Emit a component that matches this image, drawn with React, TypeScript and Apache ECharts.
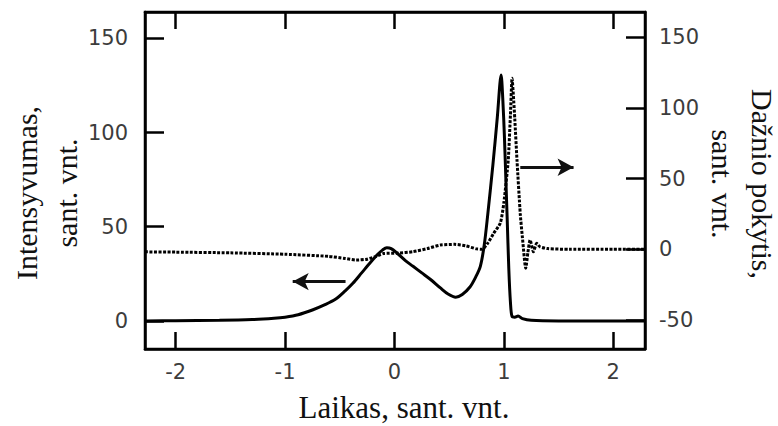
import React, { useEffect, useRef } from "react";
import * as echarts from "echarts";

// Time axis (arbitrary units)
const xTicks = [-2, -1, 0, 1, 2];
const leftTicks = [0, 50, 100, 150];
const rightTicks = [-50, 0, 50, 100, 150];

// Pulse intensity vs time
const intensity: [number, number][] = [
  [-2.28, 0], [-2.0, 0.1], [-1.6, 0.3], [-1.3, 0.7], [-1.1, 1.4], [-1.0, 2.0],
  [-0.88, 3.3], [-0.75, 5.8], [-0.64, 8.5], [-0.54, 11.5], [-0.45, 16],
  [-0.38, 20], [-0.3, 25.5], [-0.22, 31], [-0.15, 35.5], [-0.11, 37.6], [-0.07, 38.8],
  [-0.03, 38.4], [0.02, 36.2], [0.1, 32], [0.17, 29], [0.25, 25.5], [0.33, 22],
  [0.42, 17.5], [0.49, 14.3], [0.56, 12.6], [0.62, 14], [0.69, 18], [0.74, 23],
  [0.785, 29], [0.82, 40], [0.85, 55], [0.9, 83], [0.94, 108], [0.975, 130.5],
  [0.99, 118], [1.005, 98], [1.02, 72], [1.03, 55], [1.045, 28], [1.06, 10],
  [1.075, 2.3], [1.1, 2.0], [1.13, 2.6], [1.17, 1.2], [1.25, 0.3], [1.5, 0], [2.29, 0],
];

// Frequency shift vs time
const shift: [number, number][] = [
  [-2.28, -1.8], [-2.0, -2], [-1.5, -2.5], [-1.0, -3.5], [-0.6, -5], [-0.45, -6.5],
  [-0.35, -7.6], [-0.25, -7], [-0.15, -4.5], [-0.1, -3], [0.03, -2.7], [0.17, -1.7],
  [0.3, 0.5], [0.42, 3], [0.55, 3.5], [0.65, 2.5], [0.75, 0.3], [0.8, 0],
  [0.85, 4], [0.907, 11.3], [0.968, 18.6], [1.0, 33], [1.04, 63], [1.06, 95],
  [1.075, 121], [1.09, 105], [1.1, 92], [1.12, 63], [1.15, 25], [1.17, 8],
  [1.2, -13.4], [1.22, -2], [1.24, 6.6], [1.27, -1.7], [1.3, 4.2], [1.33, 1.8],
  [1.4, 0.5], [1.6, 0], [2.0, 0], [2.29, 0],
];

const TICK_FONT = "DejaVu Sans";
const TITLE_FONT = "'Liberation Serif', 'Times New Roman', serif";

const axisStroke = { color: "#000", width: 2.5 };

export default function App() {
  const ref = useRef<HTMLDivElement>(null);

  useEffect(() => {
    if (!ref.current) return;
    const chart = echarts.init(ref.current, null, { renderer: "svg" });

    const tickLabel = {
      color: "#3c3c3c",
      fontFamily: TICK_FONT,
      fontSize: 21,
    };

    const xAxisBase = (position: "bottom" | "top", showLabels: boolean) => ({
      type: "value",
      min: -2.28,
      max: 2.29,
      position,
      splitLine: { show: false },
      axisLine: { show: true, onZero: false, lineStyle: axisStroke },
      axisTick: {
        show: true,
        inside: true,
        length: 17,
        customValues: xTicks,
        lineStyle: axisStroke,
      },
      axisLabel: showLabels
        ? { ...tickLabel, margin: 12, customValues: xTicks }
        : { show: false },
    });

    chart.setOption({
      animation: false,
      backgroundColor: "#fff",
      grid: {
        left: 145,
        right: 133,
        top: 12,
        bottom: 77,
        show: true,
        borderColor: "#000",
        borderWidth: 2.5,
      },
      xAxis: [xAxisBase("bottom", true), xAxisBase("top", false)],
      yAxis: [
        {
          type: "value",
          min: -14.9,
          max: 164,
          position: "left",
          splitLine: { show: false },
          axisLine: { show: true, onZero: false, lineStyle: axisStroke },
          axisTick: {
            show: true,
            inside: true,
            length: 19,
            customValues: leftTicks,
            lineStyle: axisStroke,
          },
          axisLabel: { ...tickLabel, margin: 17, customValues: leftTicks },
        },
        {
          type: "value",
          min: -70.5,
          max: 167.8,
          position: "right",
          splitLine: { show: false },
          axisLine: { show: true, onZero: false, lineStyle: axisStroke },
          axisTick: {
            show: true,
            inside: true,
            length: 19,
            customValues: rightTicks,
            lineStyle: axisStroke,
          },
          axisLabel: { ...tickLabel, margin: 14, customValues: rightTicks },
        },
      ],
      series: [
        {
          name: "Intensyvumas",
          type: "line",
          xAxisIndex: 0,
          yAxisIndex: 0,
          data: intensity,
          showSymbol: false,
          smooth: 0.3,
          lineStyle: { color: "#000", width: 3 },
          markLine: {
            silent: true,
            symbol: ["none", "arrow"],
            symbolSize: [13, 16],
            label: { show: false },
            lineStyle: { color: "#111", width: 3, type: "solid" },
            data: [[{ coord: [-0.447, 20.9] }, { coord: [-0.93, 20.9] }]],
          },
        },
        {
          name: "Dažnio pokytis",
          type: "line",
          xAxisIndex: 0,
          yAxisIndex: 1,
          data: shift,
          showSymbol: false,
          smooth: 0.2,
          lineStyle: { color: "#000", width: 3, type: [3, 1.5] },
          markLine: {
            silent: true,
            symbol: ["none", "arrow"],
            symbolSize: [13, 16],
            label: { show: false },
            lineStyle: { color: "#111", width: 3, type: "solid" },
            data: [[{ coord: [1.15, 58] }, { coord: [1.637, 58] }]],
          },
        },
      ],
      graphic: [
        {
          type: "text",
          x: 46,
          y: 193,
          rotation: Math.PI / 2,
          style: {
            text: "Intensyvumas,\nsant. vnt.",
            font: `30px ${TITLE_FONT}`,
            fill: "#111",
            align: "center",
            verticalAlign: "middle",
            lineHeight: 40,
          },
        },
        {
          type: "text",
          x: 742,
          y: 184,
          rotation: -Math.PI / 2,
          style: {
            text: "Dažnio pokytis,\nsant. vnt.",
            font: `30px ${TITLE_FONT}`,
            fill: "#111",
            align: "center",
            verticalAlign: "middle",
            lineHeight: 40,
          },
        },
        {
          type: "text",
          x: 404,
          y: 407,
          style: {
            text: "Laikas, sant. vnt.",
            font: `31px ${TITLE_FONT}`,
            fill: "#111",
            align: "center",
            verticalAlign: "middle",
          },
        },
      ],
    });

    return () => chart.dispose();
  }, []);

  return (
    <div
      ref={ref}
      style={{ position: "fixed", left: 0, top: 0, width: 778, height: 426 }}
    />
  );
}
